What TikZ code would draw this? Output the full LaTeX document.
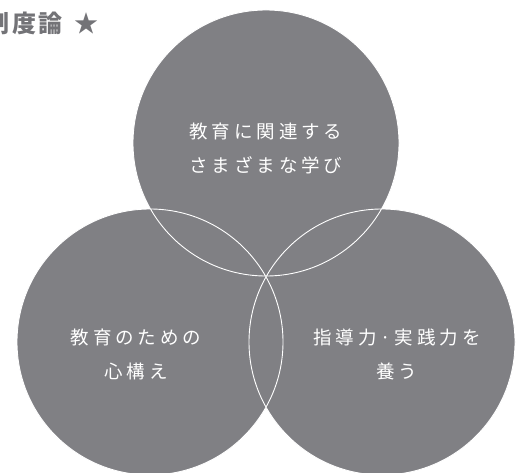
\documentclass[tikz,border=0pt]{standalone}
\usepackage{fontspec}
\newfontfamily\jpfont[LetterSpace=21]{Noto Sans CJK JP}
\newfontfamily\jptitle[LetterSpace=12]{Noto Sans CJK JP}
\definecolor{circgray}{HTML}{808084}
\definecolor{titlegray}{HTML}{737377}
\begin{document}
\begin{tikzpicture}[x=1pt, y=-1pt, line join=round, line cap=round,
	circtext/.style={text=white, font=\jpfont\fontsize{18.5}{34}\selectfont, align=center, inner sep=0pt}]
	\useasboundingbox (0,0) rectangle (516,473);
	\clip (0,0) rectangle (516,473);
	\coordinate (top) at (266,143);
	\coordinate (left) at (150,342);
	\coordinate (right) at (382,342);
	\fill[circgray] (top) circle (133pt) (left) circle (133pt) (right) circle (133pt);
	\draw[white, line width=0.9pt] (top) circle (133pt)
		(left) circle (133pt)
		(right) circle (133pt);
	\node[circtext] (toptext) at (266,148) {教育に関連する\\さまざまな学び};
	\node[circtext] (lefttext) at (136,354) {教育のための\\心構え};
	\node[circtext] (righttext) at (397,354) {指導力·実践力を\\養う};
	\node[anchor=west, inner sep=0pt, text=titlegray, font=\jptitle\bfseries\fontsize{24}{24}\selectfont] (title) at (-15,23) {制度論\hspace{12pt}★};
\end{tikzpicture}
\end{document}
